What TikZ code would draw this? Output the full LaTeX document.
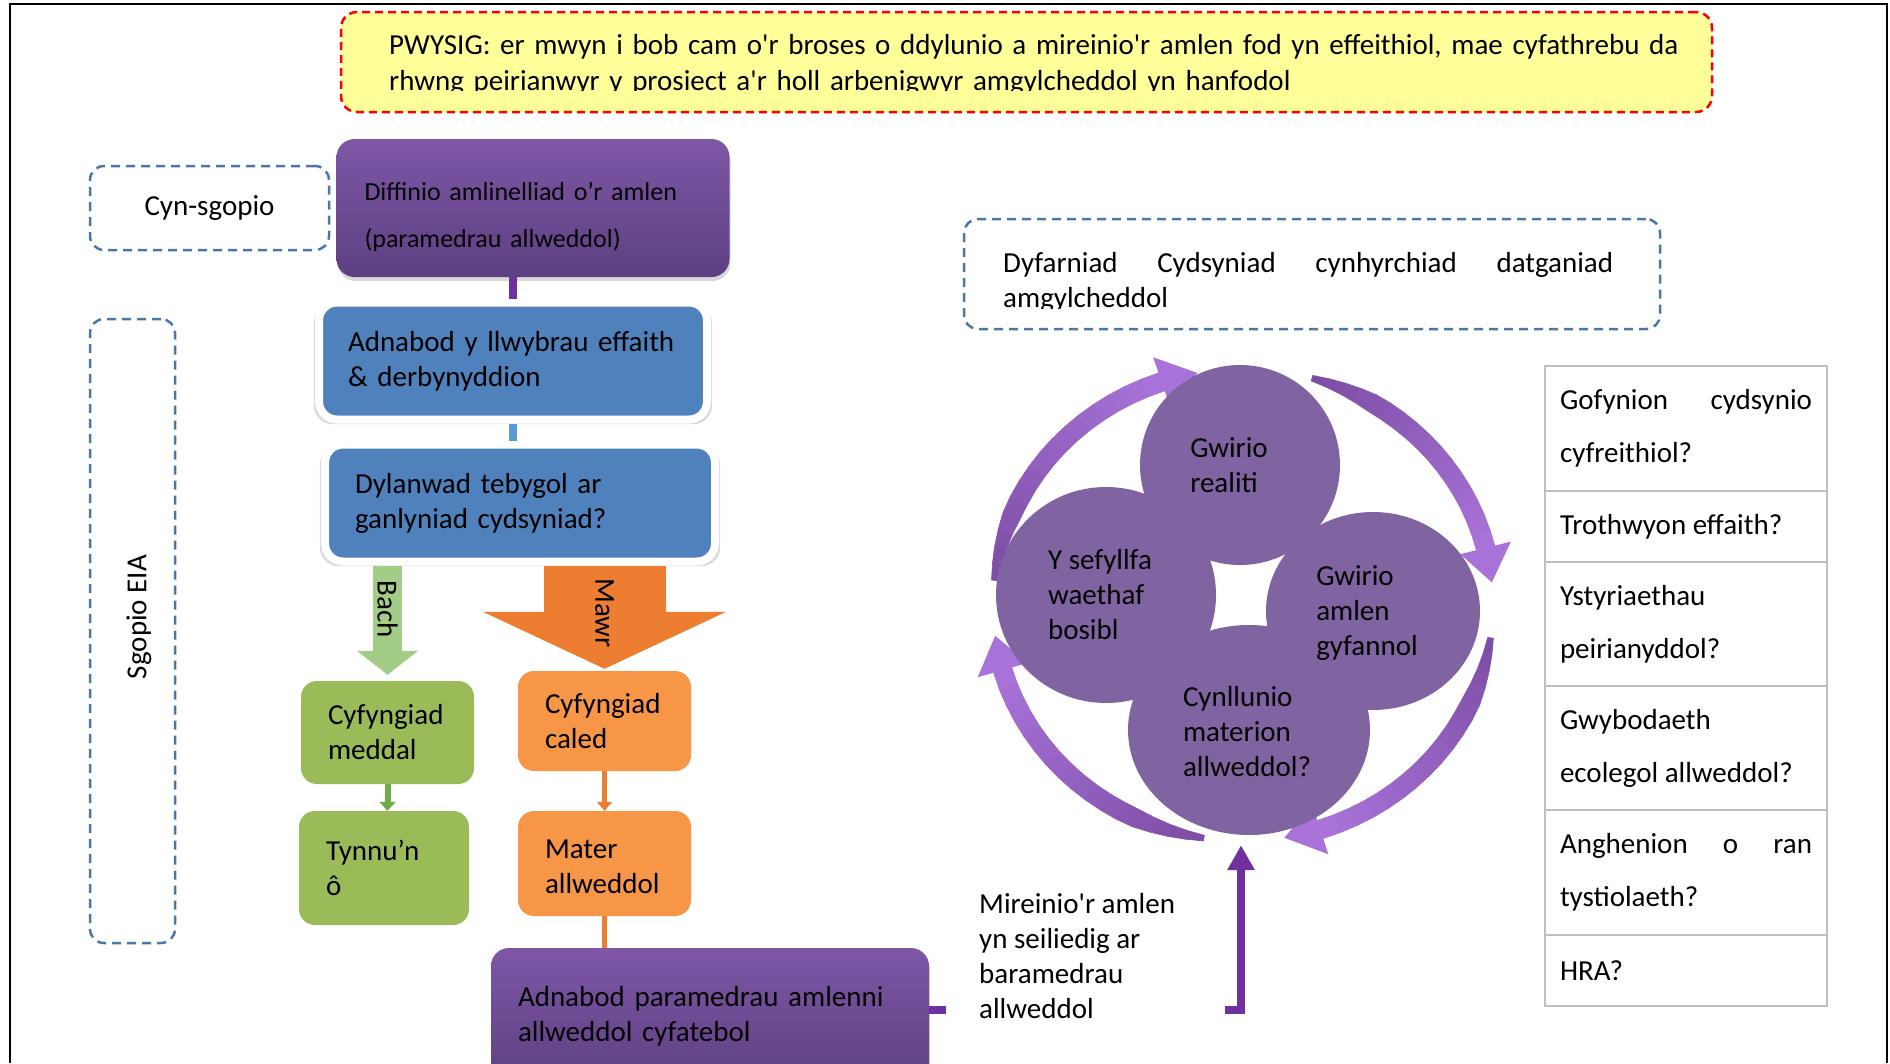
\documentclass[tikz,border=0pt]{standalone}
\usepackage{fontspec}
\setmainfont{Carlito}
\usetikzlibrary{positioning, arrows.meta, shapes.geometric, shadows}
\hyphenpenalty=10000
\definecolor{purptop}{HTML}{7E57A6}
\definecolor{purpbot}{HTML}{5E3F82}
\definecolor{blueacc}{HTML}{4F81BD}
\definecolor{greenacc}{HTML}{9BBB59}
\definecolor{orangeacc}{HTML}{F79646}
\definecolor{orangedeep}{HTML}{ED7D31}
\definecolor{greenlight}{HTML}{A3CD87}
\definecolor{linkpurple}{HTML}{7030A0}
\definecolor{linkblue}{HTML}{5B9BD5}
\definecolor{linkgreen}{HTML}{70AD47}
\definecolor{cyclefill}{HTML}{8064A2}
\definecolor{cycdark}{HTML}{7D4EA5}
\definecolor{cyclight}{HTML}{A872D8}
\definecolor{dashblue}{HTML}{4A76A8}
\definecolor{noteyellow}{HTML}{FFFF99}
\definecolor{gridgray}{HTML}{BFBFBF}

\begin{document}
\begin{tikzpicture} [x=1pt, y=-1pt, node distance=0pt,
    every node/.style={inner sep=0pt, font=\fontsize{29}{35}\selectfont},
    purplebox/.style={rounded corners=18pt, top color=purptop, bottom color=purpbot, align=left,
        drop shadow={opacity=0.3, shadow xshift=1pt, shadow yshift=-4pt}},
    bluebox/.style={rounded corners=18pt, fill=blueacc, draw=white, line width=8pt, align=left,
        drop shadow={opacity=0.3, shadow xshift=0pt, shadow yshift=-3pt, shadow scale=1.026}},
    greenbox/.style={rounded corners=16pt, fill=greenacc, align=left},
    orangebox/.style={rounded corners=16pt, fill=orangeacc, align=left},
    dashbox/.style={draw=dashblue, line width=2.5pt, dash pattern=on 9pt off 6pt, rounded corners=14pt},
    notebox/.style={draw=red, fill=noteyellow, line width=2.5pt, dash pattern=on 8pt off 5pt, rounded corners=16pt},
    cell/.style={draw=gridgray, line width=2.5pt, outer sep=0pt, minimum width=282pt, text width=252pt,
        align=justify, font=\fontsize{29}{53}\selectfont},
    cyc/.style={ellipse, fill=cyclefill},
    cyctxt/.style={align=left},
    link/.style={line width=8pt}]

        \useasboundingbox (0,0) rectangle (1890,1063);
        \draw [line width=2.5pt] (10,1063) -- (10,4) -- (1887,4) -- (1887,1063);

        \node (note) [notebox, minimum width=1371pt, minimum height=100pt] at (1026.5,62) {};
        \begin{scope}
            \clip (341,12) rectangle (1712,90.5);
            \node (notetxt) [anchor=base west, text width=1330pt, align=left,
                font=\fontsize{29}{36}\selectfont] at (389,54)
            {PWYSIG: er mwyn i bob cam o\textquotesingle r broses o ddylunio a mireinio\textquotesingle r amlen fod yn effeithiol, mae cyfathrebu da\\rhwng peirianwyr y prosiect a\textquotesingle r holl arbenigwyr amgylcheddol yn hanfodol};
        \end{scope}

        \node (cyn) [dashbox, minimum width=239pt, minimum height=84pt] at (209.5,208) {Cyn-sgopio};
        \node (sgopio) [dashbox, minimum width=85pt, minimum height=624pt] at (132.5,631) {};
        \node (sgopiotxt) [rotate=90] at (139,617) {Sgopio EIA};

        \node (defn) [purplebox, minimum width=393pt, minimum height=138pt, text width=337pt, text height=36pt,
            font=\fontsize{26}{47}\selectfont] at (533,208) {Diffinio amlinelliad o’r amlen\\(paramedrau allweddol)};
        \node (llwybr) [bluebox, minimum width=388pt, minimum height=117pt, text width=330pt] at (513,361)
            {Adnabod y llwybrau effaith\\\& derbynyddion};
        \node (dylan) [bluebox, minimum width=390pt, minimum height=117pt, text width=330pt] at (520,503)
            {Dylanwad tebygol ar\\ganlyniad cydsyniad?};
        \node (meddal) [greenbox, minimum width=173pt, minimum height=103pt, text width=119pt] at (387.5,732.5)
            {Cyfyngiad\\meddal};
        \node (tynnu) [greenbox, minimum width=170pt, minimum height=114pt, text width=116pt] at (384,868)
            {Tynnu’n\\ô};
        \node (caled) [orangebox, minimum width=173pt, minimum height=100pt, text width=119pt] at (604.5,721)
            {Cyfyngiad\\caled};
        \node (mater) [orangebox, minimum width=173pt, minimum height=105pt, text width=119pt, text height=25pt]
            at (604.5,863.5) {Mater\\allweddol};
        \node (params) [purplebox, minimum width=438pt, minimum height=136pt, text width=384pt] at (710,1016)
            {Adnabod paramedrau amlenni\\allweddol cyfatebol};
        \coordinate (paramsend) at ([xshift=17pt, yshift=6pt]params.east);

        \draw [linkpurple, link] (llwybr.north |- defn.south) -- (llwybr.north);
        \draw [linkblue, link] (llwybr.south) -- (llwybr.south |- dylan.north);
        \draw [greenlight, line width=29pt, -{Triangle[width=60pt, length=24pt]}]
            (dylan.south -| meddal.north) -- ([yshift=6pt]meddal.north)
            node [pos=0.4, rotate=-90, text=black] (bach) {Bach};
        \draw [orangedeep, line width=122pt, -{Triangle[width=241pt, length=57pt]}]
            (dylan.south -| caled.north) -- ([yshift=2pt]caled.north)
            node [pos=0.46, rotate=-90, text=black] (mawr) {Mawr};
        \draw [linkgreen, line width=6pt, -{Triangle[width=16pt, length=9pt]}]
            (meddal.south) -- (meddal.south |- tynnu.north);
        \draw [orangedeep, line width=5pt, -{Triangle[width=15pt, length=9pt]}]
            (caled.south) -- (mater.north);
        \draw [orangedeep, line width=5pt] (mater.south) -- (mater.south |- params.north);
        \draw [linkpurple, link] (params.east |- paramsend) -- (paramsend);

        \node (dyfarn) [dashbox, minimum width=696pt, minimum height=110pt] at (1312,274) {};
        \begin{scope}
            \clip (964,219) rectangle (1660,308);
            \node (dyfarntxt) [anchor=base west, text width=610pt, align=justify] at (1003,272)
                {Dyfarniad Cydsyniad cynhyrchiad datganiad\linebreak amgylcheddol};
        \end{scope}

        \foreach \ta/\tb in {174/109, 74/14, -8/-72, -99/-164} {
            \foreach \k in {0,...,15} {
                \pgfmathsetmacro\aa{\ta+((\tb)-(\ta))*\k/16}
                \pgfmathsetmacro\ab{\ta+((\tb)-(\ta))*(\k+1)/16}
                \pgfmathsetmacro\wa{9.5*min(1,0.3+\k/6)}
                \pgfmathsetmacro\wb{9.5*min(1,0.3+(\k+1)/6)}
                \pgfmathtruncatemacro\mx{100*\k/15}
                \filldraw [cyclight!\mx!cycdark, line width=0.6pt, line join=round]
                    ({1243+(250+\wa)*cos(\aa)}, {605-(236+\wa)*sin(\aa)})
                    -- ({1243+(250+\wb)*cos(\ab)}, {605-(236+\wb)*sin(\ab)})
                    -- ({1243+(250-\wb)*cos(\ab)}, {605-(236-\wb)*sin(\ab)})
                    -- ({1243+(250-\wa)*cos(\aa)}, {605-(236-\wa)*sin(\aa)}) -- cycle;
            }
            \fill [cyclight] ({1243+276*cos(\tb)}, {605-262*sin(\tb)})
                -- ({1243+250*cos(\tb-8.5)}, {605-236*sin(\tb-8.5)})
                -- ({1243+224*cos(\tb)}, {605-210*sin(\tb)}) -- cycle;
        }

        \node (realiti) [cyc, minimum width=200pt, minimum height=200pt] at (1240,465) {};
        \node (cyfannol) [cyc, minimum width=214pt, minimum height=198pt] at (1373,611) {};
        \node (materion) [cyc, minimum width=242pt, minimum height=210pt] at (1249,730) {};
        \node (waethaf) [cyc, minimum width=220pt, minimum height=216pt] at (1106,595) {};
        \node (realititxt) [cyctxt] at ([xshift=-11pt]realiti) {Gwirio\\realiti};
        \node (cyfannoltxt) [cyctxt] at ([xshift=-6pt, yshift=-2pt]cyfannol) {Gwirio\\amlen\\gyfannol};
        \node (materiontxt) [cyctxt] at ([xshift=-2pt, yshift=-2pt]materion) {Cynllunio\\materion\\allweddol?};
        \node (waethaftxt) [cyctxt] at ([xshift=-6pt]waethaf) {Y sefyllfa\\waethaf\\bosibl};

        \coordinate (refbase) at (1225,1010);
        \draw [linkpurple, link, -{Triangle[width=26pt, length=25pt]}]
            (refbase) -| ([xshift=-8pt, yshift=-10pt]materion.south);
        \node (mireinio) [anchor=west, align=left] at (979,956.5)
            {Mireinio\textquotesingle r amlen\\yn seiliedig ar\\baramedrau\\allweddol};

        \node (gofyn) [cell, minimum height=125pt] at (1686,428.5) {Gofynion cydsynio\linebreak cyfreithiol?};
        \node (troth) [cell, minimum height=71pt, below=of gofyn] {Trothwyon effaith?};
        \node (ystyr) [cell, minimum height=124pt, below=of troth] {Ystyriaethau\\peirianyddol?};
        \node (gwybod) [cell, minimum height=124pt, below=of ystyr] {Gwybodaeth\\ecolegol allweddol?};
        \node (anghen) [cell, minimum height=125pt, below=of gwybod] {Anghenion o ran\linebreak tystiolaeth?};
        \node (hra) [cell, minimum height=71pt, below=of anghen] {HRA?};
    \end{tikzpicture}
\end{document}
